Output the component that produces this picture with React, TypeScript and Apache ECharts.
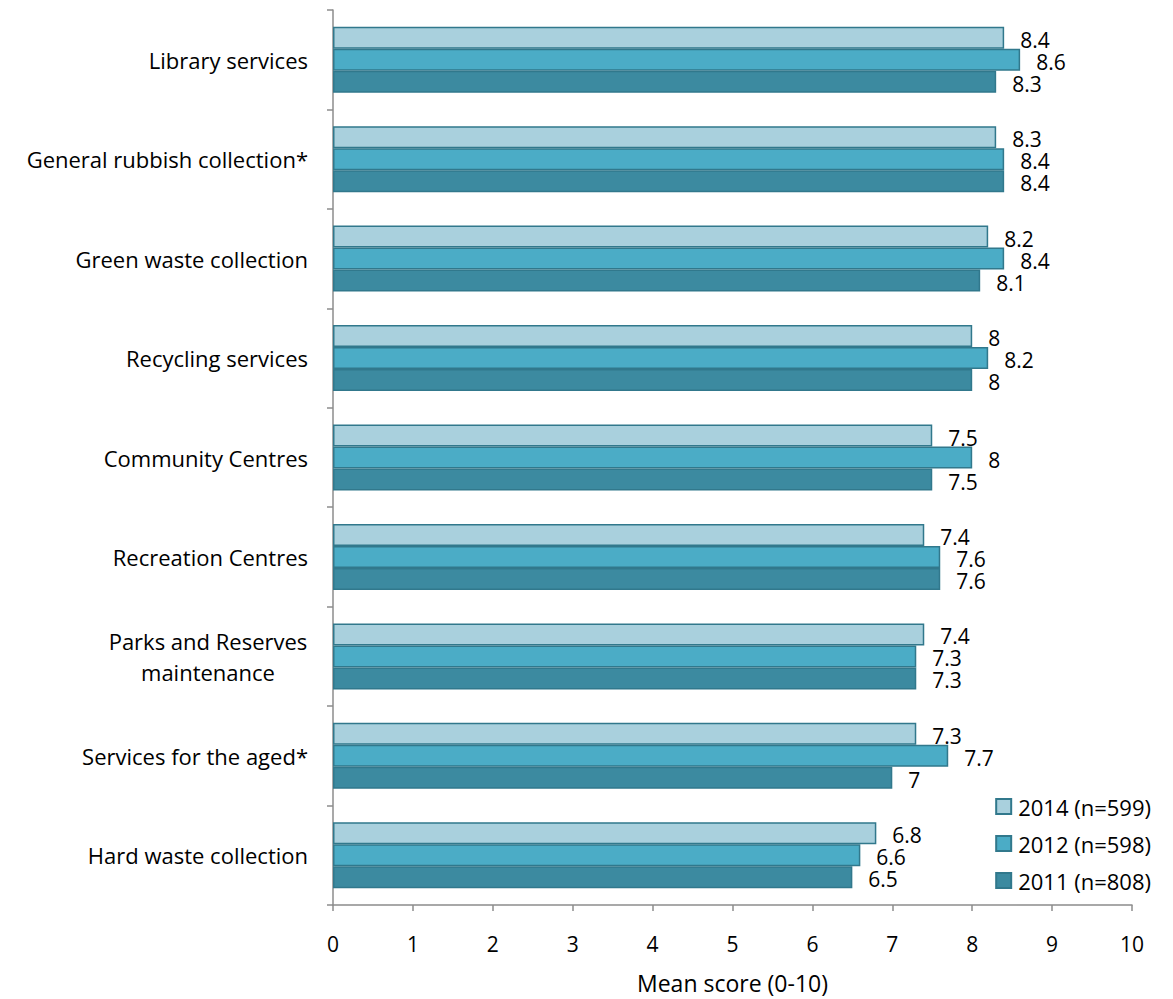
import React, { useEffect, useRef } from "react";
import * as echarts from "echarts";

const categories = [
  "Library services",
  "General rubbish collection*",
  "Green waste collection",
  "Recycling services",
  "Community Centres",
  "Recreation Centres",
  "Parks and Reserves\nmaintenance",
  "Services for the aged*",
  "Hard waste collection",
];
const seriesNames = ["2014 (n=599)", "2012 (n=598)", "2011 (n=808)"];
const values2014 = [8.4, 8.3, 8.2, 8, 7.5, 7.4, 7.4, 7.3, 6.8];
const values2012 = [8.6, 8.4, 8.4, 8.2, 8, 7.6, 7.3, 7.7, 6.6];
const values2011 = [8.3, 8.4, 8.1, 8, 7.5, 7.6, 7.3, 7, 6.5];
const xTicks = { min: 0, max: 10, interval: 1 };
const axisName = "Mean score (0-10)";

const colors = ["#a9d0dd", "#4bacc6", "#3c8aa0"];
const FONT = "Open Sans";

export default function App() {
  const ref = useRef<HTMLDivElement>(null);
  useEffect(() => {
    document.body.style.margin = "0";
    const chart = echarts.init(ref.current!, null, { renderer: "svg" });
    const data = [values2014, values2012, values2011];
    chart.setOption({
      animation: false,
      textStyle: { fontFamily: FONT },
      grid: { left: 333, right: 41, top: 10, bottom: 92, containLabel: false },
      legend: {
        orient: "vertical",
        right: 17,
        top: 789,
        itemWidth: 15,
        itemHeight: 15,
        itemGap: 12,
        icon: "rect",
        textStyle: { fontSize: 22, color: "#000", fontFamily: FONT, padding: [0, 0, 0, 2], lineHeight: 25 },
        data: seriesNames,
      },
      xAxis: {
        type: "value",
        min: xTicks.min,
        max: xTicks.max,
        interval: xTicks.interval,
        name: axisName,
        nameLocation: "middle",
        nameGap: 66,
        nameTextStyle: { fontSize: 23, color: "#000", fontFamily: FONT },
        axisLine: { show: true, lineStyle: { color: "#8c8c8c", width: 1.5 } },
        axisTick: { show: true, length: 6, lineStyle: { color: "#8c8c8c", width: 1.5 } },
        axisLabel: { fontSize: 21, color: "#000", margin: 28, fontFamily: FONT },
        splitLine: { show: false },
      },
      yAxis: {
        type: "category",
        inverse: true,
        data: categories,
        axisLine: { show: true, lineStyle: { color: "#8c8c8c", width: 1.5 } },
        axisTick: { show: true, length: 6, lineStyle: { color: "#8c8c8c", width: 1.5 } },
        axisLabel: {
          fontSize: 22,
          color: "#000",
          margin: 25,
          fontFamily: FONT,
          lineHeight: 31,
          formatter: (v: string) =>
            v.includes("\n")
              ? v
                  .split("\n")
                  .map((s) => `{c|${s}}`)
                  .join("\n")
              : v,
          rich: {
            c: { width: 200, align: "center", fontSize: 22, color: "#000", fontFamily: FONT, lineHeight: 31 },
          },
        },
      },
      series: seriesNames.map((name, i) => ({
        name,
        type: "bar",
        data: data[i],
        barWidth: 22,
        barGap: "0%",
        itemStyle: { color: colors[i], borderColor: "#31788c", borderWidth: 1.5 },
        label: {
          show: true,
          position: "right",
          distance: 16,
          fontSize: 21,
          lineHeight: 21,
          color: "#000",
          fontFamily: FONT,
          offset: [0, 2],
        },
      })),
    });
    return () => chart.dispose();
  }, []);
  return <div ref={ref} style={{ width: 1173, height: 999 }} />;
}
